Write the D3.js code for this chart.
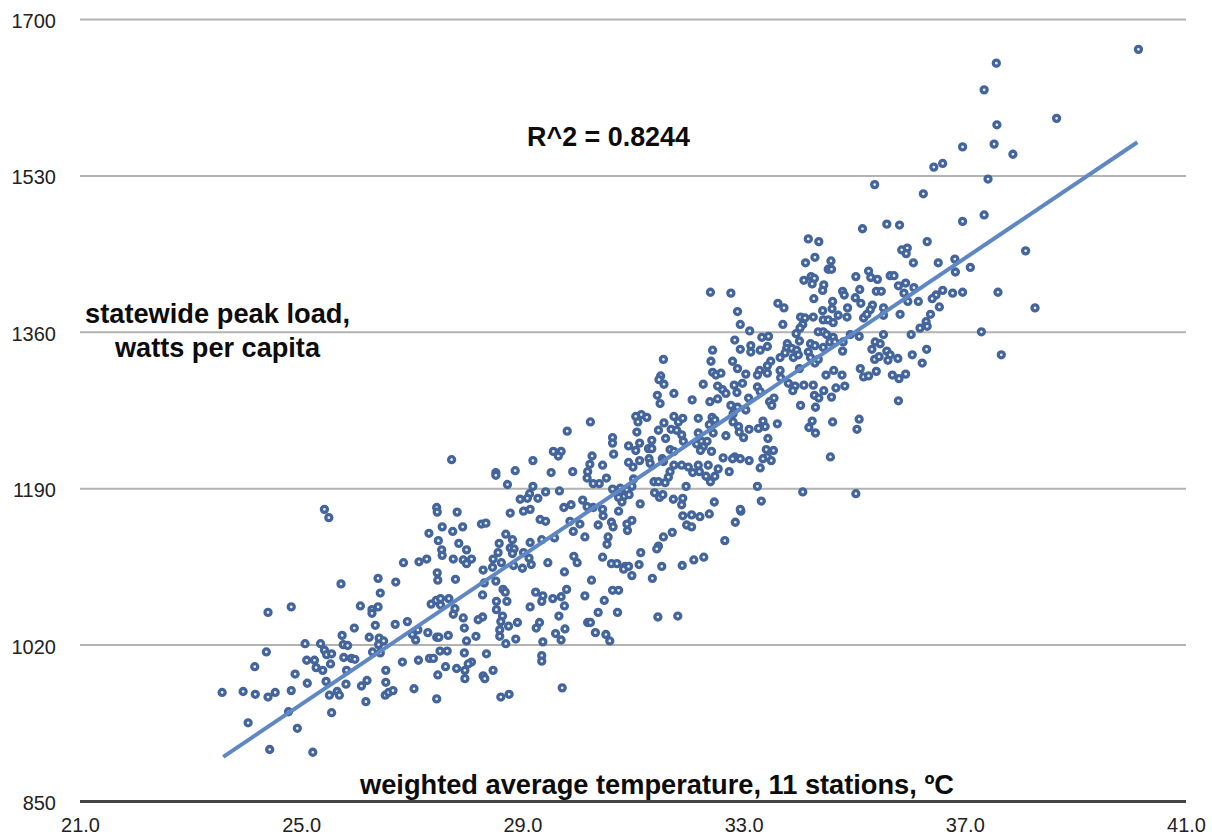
<!DOCTYPE html>
<html><head><meta charset="utf-8">
<script src="https://cdn.jsdelivr.net/npm/d3@7"></script>
<style>
html,body{margin:0;padding:0;background:#fff}
svg{display:block}
text{font-family:"Liberation Sans",Arial,sans-serif;fill:#111}
.tick text{font-size:20px;fill:#222}
.lab{font-weight:bold;font-size:27px;fill:#0c0c0c}
</style></head><body>
<svg id="c" width="1212" height="838"></svg>
<script>
const xTicks=[21,25,29,33,37,41];
const yTicks=[850,1020,1190,1360,1530,1700];
const trendTemp=[23.59,40.12];
const trendLoad=[898,1566];
const coolDays=[[25.42,1167],[25.50,1158],[27.45,1169],[27.46,1164],[27.55,1148],[27.31,1141],[27.48,1133],[27.54,1123],[27.55,1117],[26.85,1109],[27.13,1110],[27.27,1113],[27.46,1098],[27.47,1090],[26.39,1092],[26.71,1088],[25.72,1086],[26.43,1076],[26.07,1062],[26.39,1061],[26.28,1058],[26.28,1054],[24.82,1061],[24.40,1055],[27.35,1064],[27.44,1068],[27.52,1070],[27.67,1070],[27.52,1063],[26.92,1045],[26.70,1042],[26.34,1041],[25.96,1038],[25.74,1030],[27.11,1036],[27.01,1031],[27.07,1025],[27.29,1033],[27.45,1028],[27.49,1028],[27.66,1030],[26.23,1028],[26.41,1027],[26.49,1024],[26.40,1020],[25.07,1021],[25.35,1021],[25.42,1014],[25.76,1020],[25.84,1019],[24.37,1012],[25.46,1009],[25.55,1010],[26.29,1012],[26.43,1011],[27.51,1013],[27.64,1013],[25.77,1006],[25.91,1005],[25.97,1004],[25.10,1003],[25.24,1003],[25.53,999],[26.83,1001],[27.12,1003],[27.32,1005],[27.39,1005],[24.16,996],[25.27,995],[25.39,992],[25.82,992],[27.61,996],[26.53,992],[24.89,988],[27.47,987],[25.11,978],[25.45,980],[26.19,981],[26.09,975],[25.81,977],[26.53,979],[23.57,968],[23.95,969],[24.17,966],[24.40,963],[24.53,968],[24.82,970],[25.51,965],[25.65,969],[25.69,965],[26.52,965],[26.58,968],[26.66,970],[27.04,972],[26.17,958],[27.45,961],[24.77,947],[25.55,946],[24.04,935],[24.93,929],[24.43,906],[25.21,903]];
const mildDays=[[31.49,1282],[30.23,1262],[29.81,1252],[31.05,1268],[31.15,1270],[31.25,1267],[31.09,1262],[31.74,1268],[31.82,1262],[31.56,1261],[31.46,1253],[31.07,1251],[31.69,1254],[31.79,1253],[30.63,1245],[30.63,1239],[31.34,1242],[31.12,1239],[30.92,1236],[31.59,1244],[31.28,1233],[31.34,1233],[31.05,1231],[30.65,1227],[31.67,1232],[31.74,1230],[29.56,1230],[29.70,1230],[29.65,1225],[30.26,1225],[27.72,1221],[29.19,1220],[30.22,1216],[30.45,1215],[30.92,1218],[31.12,1220],[31.29,1222],[31.53,1222],[31.0,1213],[31.31,1217],[31.74,1215],[31.55,1219],[28.52,1207],[28.52,1204],[28.87,1209],[29.52,1207],[29.91,1208],[30.18,1208],[30.17,1201],[30.28,1195],[30.39,1195],[30.52,1201],[31.67,1208],[31.64,1202],[31.58,1196],[31.01,1200],[31.38,1197],[31.46,1197],[28.73,1194],[29.19,1192],[29.13,1184],[29.42,1186],[29.67,1187],[30.63,1189],[30.77,1190],[30.98,1192],[30.89,1188],[28.96,1178],[29.09,1179],[29.28,1179],[30.09,1177],[30.83,1181],[30.93,1183],[30.74,1180],[31.39,1185],[31.48,1180],[31.54,1183],[31.73,1178],[30.80,1175],[31.13,1173],[30.17,1170],[30.28,1169],[30.45,1167],[29.02,1165],[29.14,1167],[29.75,1169],[29.88,1172],[30.74,1165],[28.78,1163],[27.82,1164],[30.46,1160],[29.32,1156],[29.42,1154],[30.98,1155],[30.89,1151],[29.86,1154],[30.04,1151],[30.37,1150],[30.61,1153],[30.64,1148],[29.92,1143],[30.90,1144],[28.26,1151],[28.34,1152],[27.92,1148],[27.74,1143],[28.70,1140],[30.13,1137],[30.55,1137],[31.55,1137],[31.71,1142],[28.82,1134],[29.35,1134],[29.58,1136],[27.85,1130],[28.58,1130],[29.14,1131],[30.53,1129],[31.46,1127],[31.43,1124],[27.99,1123],[28.78,1125],[28.85,1124],[28.56,1120],[28.82,1119],[29.02,1120],[31.14,1120],[27.75,1113],[27.93,1112],[28.08,1113],[27.99,1108],[28.47,1113],[28.62,1109],[29.12,1114],[29.93,1116],[29.99,1109],[30.45,1115],[29.16,1107],[29.46,1109],[28.84,1106],[28.29,1101],[28.46,1104],[29.0,1103],[30.61,1108],[30.71,1108],[30.86,1105],[30.83,1102],[30.92,1105],[31.11,1107],[31.52,1105],[29.76,1099],[30.98,1095],[31.35,1092],[27.79,1091],[28.31,1087],[28.52,1089],[30.25,1090],[28.65,1080],[28.69,1077],[29.80,1080],[29.24,1077],[29.37,1073],[30.63,1079],[30.74,1079],[28.28,1074],[29.55,1070],[29.70,1072],[30.13,1073],[29.35,1067],[28.53,1067],[28.72,1067],[30.48,1068],[29.76,1062],[29.14,1061],[28.53,1058],[27.78,1059],[27.75,1053],[30.37,1055],[30.72,1055],[28.64,1051],[29.66,1051],[31.45,1050],[31.81,1051],[28.28,1050],[28.20,1047],[27.93,1049],[28.61,1045],[28.91,1044],[28.75,1040],[29.31,1044],[30.18,1044],[30.23,1044],[27.95,1038],[28.59,1036],[29.25,1038],[29.77,1037],[30.32,1033],[28.16,1029],[28.59,1029],[29.60,1032],[30.51,1031],[27.99,1024],[28.88,1026],[29.37,1023],[29.70,1025],[28.70,1021],[30.58,1024],[27.95,1011],[28.35,1010],[29.35,1008],[29.35,1002],[28.08,1001],[28.02,999],[27.81,994],[27.96,992],[28.47,992],[28.29,986],[28.32,983],[27.96,983],[29.72,973],[28.76,966],[28.61,963],[32.95,1165],[32.85,1153],[32.66,1133],[32.38,1162],[32.21,1159],[32.06,1161],[31.90,1160],[31.97,1150],[32.06,1148],[32.28,1115],[32.10,1112],[31.89,1106],[31.55,1330],[31.50,1312],[31.47,1308],[31.56,1303],[31.44,1291],[31.74,1293]];
const hotDays=[[35.15,1472],[35.59,1477],[35.82,1476],[34.17,1461],[34.36,1458],[36.32,1458],[35.86,1449],[35.96,1451],[35.94,1445],[34.29,1441],[34.12,1435],[34.58,1437],[36.07,1435],[36.52,1435],[36.82,1439],[34.53,1428],[34.59,1428],[36.83,1425],[37.10,1430],[35.26,1426],[34.09,1416],[34.22,1420],[34.28,1418],[34.24,1412],[35.03,1420],[35.30,1419],[35.42,1417],[35.65,1421],[35.72,1421],[34.45,1411],[34.43,1405],[35.93,1413],[35.80,1410],[36.08,1408],[35.10,1406],[34.79,1404],[34.82,1400],[35.40,1404],[35.49,1404],[35.90,1402],[36.60,1405],[36.48,1400],[36.41,1396],[36.78,1402],[36.96,1403],[32.40,1403],[32.77,1402],[34.27,1396],[35.02,1397],[35.12,1391],[35.97,1393],[36.16,1393],[33.62,1391],[33.73,1386],[34.61,1393],[34.60,1385],[34.88,1386],[35.33,1389],[35.29,1384],[35.53,1386],[36.54,1387],[32.89,1382],[34.43,1383],[34.03,1376],[34.11,1375],[34.26,1376],[34.71,1378],[34.87,1376],[35.17,1375],[35.23,1379],[35.53,1378],[35.83,1379],[36.38,1379],[34.44,1373],[34.53,1373],[34.62,1370],[32.94,1368],[33.71,1368],[34.07,1368],[36.30,1371],[36.19,1364],[36.32,1366],[33.11,1361],[34.02,1364],[33.95,1358],[34.35,1360],[34.44,1360],[35.53,1357],[36.03,1357],[33.33,1354],[33.45,1355],[32.84,1351],[34.01,1350],[34.50,1357],[34.62,1354],[35.09,1355],[34.93,1357],[32.44,1340],[32.94,1341],[33.13,1345],[33.13,1338],[33.30,1340],[33.43,1344],[33.79,1347],[33.78,1342],[33.87,1342],[33.96,1340],[34.21,1347],[34.29,1345],[34.44,1343],[34.56,1349],[34.65,1349],[34.80,1349],[35.38,1349],[35.47,1347],[35.32,1341],[36.31,1341],[34.79,1339],[33.66,1332],[33.75,1337],[33.90,1332],[33.99,1335],[34.17,1338],[34.21,1332],[35.59,1339],[35.65,1335],[35.79,1331],[36.05,1335],[32.41,1328],[32.80,1328],[32.89,1320],[33.29,1318],[33.49,1328],[33.43,1323],[34.29,1326],[34.35,1330],[35.37,1330],[35.45,1333],[35.61,1329],[36.23,1326],[34.01,1320],[33.66,1318],[33.43,1315],[33.25,1313],[32.44,1316],[32.50,1313],[32.59,1315],[33.04,1314],[33.67,1310],[34.49,1313],[34.63,1318],[34.78,1313],[35.11,1320],[35.40,1317],[35.17,1311],[35.26,1312],[35.69,1313],[35.81,1309],[35.93,1314],[32.27,1303],[32.98,1304],[32.83,1302],[32.53,1301],[32.62,1297],[33.25,1300],[33.81,1304],[33.93,1301],[34.09,1302],[34.26,1302],[34.83,1301],[34.67,1299],[32.68,1293],[32.88,1294],[33.30,1295],[33.89,1296],[34.45,1296],[34.28,1291],[34.36,1288],[34.59,1289],[32.07,1286],[32.39,1284],[32.53,1287],[33.09,1288],[33.55,1288],[33.47,1284],[33.51,1280],[32.77,1280],[32.89,1278],[33.04,1275],[32.81,1271],[34.03,1280],[34.30,1278],[35.80,1285],[31.90,1266],[32.18,1266],[32.43,1267],[32.48,1264],[32.38,1259],[32.81,1262],[32.91,1257],[33.35,1263],[33.61,1260],[34.24,1263],[34.61,1262],[35.09,1265],[33.27,1255],[33.39,1257],[33.10,1254],[34.18,1256],[35.05,1254],[32.92,1251],[34.30,1250],[32.45,1250],[32.68,1247],[32.18,1250],[33.0,1245],[33.44,1244],[31.88,1248],[31.91,1241],[32.15,1238],[32.24,1241],[32.34,1241],[32.27,1235],[32.22,1231],[32.42,1230],[33.41,1232],[33.54,1231],[33.43,1224],[32.84,1224],[32.63,1223],[32.80,1222],[32.94,1222],[33.10,1220],[33.35,1222],[33.50,1220],[34.57,1224],[32.36,1215],[32.18,1215],[31.88,1215],[32.0,1213],[32.54,1211],[32.08,1207],[32.20,1208],[32.74,1208],[32.32,1203],[32.48,1203],[32.40,1197],[33.30,1212],[31.96,1192],[33.25,1192],[34.07,1186],[35.03,1184],[31.90,1179],[32.47,1175],[33.32,1176],[31.88,1172],[32.94,1167]];
const extremeDays=[[40.14,1667],[37.57,1652],[37.35,1623],[38.66,1592],[37.58,1585],[36.96,1561],[37.53,1564],[37.87,1553],[36.60,1543],[36.44,1539],[37.42,1526],[35.37,1520],[36.25,1510],[37.35,1487],[36.96,1480],[38.10,1448],[37.60,1403],[38.27,1386],[37.30,1360],[37.66,1335]];

const svg=d3.select("#c");
const x=d3.scaleLinear().domain([21,41]).range([80,1186]);
const y=d3.scaleLinear().domain([850,1700]).range([801,19]);

const gy=svg.append("g").attr("transform","translate(80,0)")
  .call(d3.axisLeft(y).tickValues(yTicks).tickSize(-1106).tickPadding(24).tickFormat(d3.format("d")));
gy.select(".domain").remove();
gy.selectAll(".tick line").attr("stroke",d=>d===850?"#444":"#b2b2b2").attr("stroke-width",d=>d===850?3:2);
gy.selectAll(".tick text").attr("dy","0.42em");
const gx=svg.append("g").attr("transform","translate(0,801)")
  .call(d3.axisBottom(x).tickValues(xTicks).tickSize(0).tickPadding(17).tickFormat(d3.format(".1f")));
gx.select(".domain").remove();

const all=[...coolDays,...mildDays,...hotDays,...extremeDays];
svg.append("g").selectAll("circle").data(all).join("circle")
  .attr("cx",d=>x(d[0])).attr("cy",d=>y(d[1])).attr("r",3)
  .attr("fill","#eef2f8").attr("stroke","#44659c").attr("stroke-width",3.3);

svg.append("line")
  .attr("x1",x(trendTemp[0])).attr("y1",y(trendLoad[0]))
  .attr("x2",x(trendTemp[1])).attr("y2",y(trendLoad[1]))
  .attr("stroke","#5f87c4").attr("stroke-width",4);

const lab=(t,cx,by,w)=>svg.append("text").attr("class","lab").attr("x",cx).attr("y",by)
  .attr("text-anchor","middle").attr("textLength",w).attr("lengthAdjust","spacingAndGlyphs").text(t);
lab("R^2 = 0.8244",608.5,146,163);
lab("statewide peak load,",217.5,323,265);
lab("watts per capita",217.5,357,205);
lab("weighted average temperature, 11 stations, ºC",657,794,594);
</script></body></html>
